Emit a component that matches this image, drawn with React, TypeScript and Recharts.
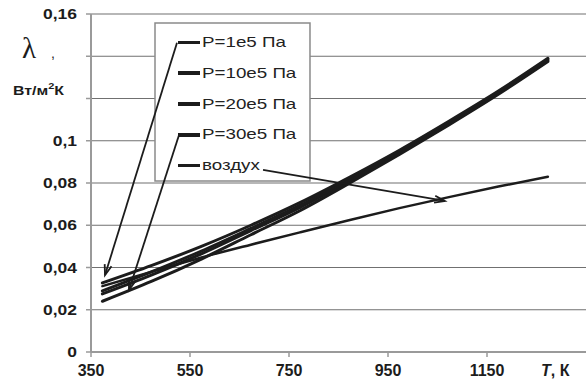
import React from 'react';
import {
  LineChart,
  Line,
  XAxis,
  YAxis,
  CartesianGrid,
  Legend,
  ReferenceArea,
  ReferenceLine,
} from 'recharts';

// ---- data ----
const temperatures = [373, 473, 573, 673, 773, 873, 973, 1073, 1173, 1273];
const steamP1 = [0.024, 0.0335, 0.044, 0.0555, 0.067, 0.08, 0.0935, 0.1075, 0.122, 0.1375];
const steamP10 = [0.0275, 0.0365, 0.0465, 0.0575, 0.0685, 0.081, 0.0942, 0.108, 0.1225, 0.138];
const steamP20 = [0.0289, 0.038, 0.0478, 0.0585, 0.0695, 0.0818, 0.0948, 0.1085, 0.123, 0.1385];
const steamP30 = [0.0327, 0.041, 0.05, 0.06, 0.0708, 0.0828, 0.0955, 0.1092, 0.1235, 0.139];
const air = [0.0312, 0.038, 0.0447, 0.0508, 0.0567, 0.0625, 0.0681, 0.0733, 0.0783, 0.083];

const seriesKeys = ['p1', 'p10', 'p20', 'p30', 'air'];
const seriesNames = ['P=1e5 Па', 'P=10e5 Па', 'P=20e5 Па', 'P=30e5 Па', 'воздух'];
const seriesValues = [steamP1, steamP10, steamP20, steamP30, air];

const xTicks = [350, 550, 750, 950, 1150];
const yTicks = [0, 0.02, 0.04, 0.06, 0.08, 0.1, 0.12, 0.14, 0.16];
const yTickLabels = ['0', '0,02', '0,04', '0,06', '0,08', '0,1', '', '', '0,16'];

// legend frame, in data units
const legendFrame = { x1: 479.3, x2: 792.4, y1: 0.081, y2: 0.1557 };
// annotation arrows (from legend entries to curves), in data units
const arrowFrom = [
  { x: 523.7, y: 0.1464 },
  { x: 527.8, y: 0.1027 },
  { x: 697.5, y: 0.0862 },
];
const arrowTo = [
  { x: 378.3, y: 0.0364 },
  { x: 426.8, y: 0.0294 },
  { x: 1065, y: 0.0715 },
];

const tableData = temperatures.map((t, i) => {
  const row: Record<string, number> = { T: t };
  seriesKeys.forEach((k, j) => {
    row[k] = seriesValues[j][i];
  });
  return row;
});

const FONT = '"Liberation Sans", Arial, sans-serif';
const INK = '#1c1c1c';
const AXIS_GRAY = '#9a9a9a';

const YTick = (props: any) => {
  const { x, y, payload, index } = props;
  const idx = yTicks.indexOf(payload.value);
  const label = idx >= 0 ? yTickLabels[idx] : '';
  return (
    <g transform={`translate(${x},${y})`}>
      <text
        transform="scale(1.25,1)"
        textAnchor="end"
        dy="0.36em"
        fontFamily={FONT}
        fontWeight="bold"
        fontSize={14}
        fill={INK}
      >
        {label}
      </text>
    </g>
  );
};

const XTick = (props: any) => {
  const { x, y, payload } = props;
  return (
    <text
      x={x}
      y={y}
      dy="0.71em"
      textAnchor="middle"
      fontFamily={FONT}
      fontWeight="bold"
      fontSize={16}
      fill={INK}
    >
      {payload.value}
    </text>
  );
};

const YLabel = () => (
  <g>
    <text x={29} y={58} textAnchor="middle" fontFamily='"Liberation Serif", "Times New Roman", serif' fontSize={29} fill={INK}>
      λ
    </text>
    <text x={51} y={58} fontFamily={FONT} fontSize={14} fill={INK}>
      ,
    </text>
    <g transform="translate(13,95)">
      <text transform="scale(1.22,1)" fontFamily={FONT} fontWeight="bold" fontSize={13} fill={INK}>
        <tspan>Вт/м</tspan>
        <tspan dy={-6} fontSize={9}>2</tspan>
        <tspan dy={6}>К</tspan>
      </text>
    </g>
  </g>
);

const XLabel = () => (
  <text x={541} y={376} fontFamily={FONT} fontWeight="bold" fontSize={16} fill={INK}>
    <tspan fontStyle="italic">T</tspan>
    <tspan>, К</tspan>
  </text>
);

const ArrowShape = (p: any) => {
  const { x1, y1, x2, y2 } = p;
  const ang = Math.atan2(y2 - y1, x2 - x1);
  const len = 11;
  const spread = 0.33;
  const a1 = ang + Math.PI - spread;
  const a2 = ang + Math.PI + spread;
  const d = `M${x2 + len * Math.cos(a1)},${y2 + len * Math.sin(a1)} L${x2},${y2} L${x2 + len * Math.cos(a2)},${y2 + len * Math.sin(a2)}`;
  return (
    <g>
      <line x1={x1} y1={y1} x2={x2} y2={y2} stroke={INK} strokeWidth={1.8} />
      <path d={d} fill="none" stroke={INK} strokeWidth={1.8} />
    </g>
  );
};

const LegendContent = () => (
  <div
    style={{
      width: 155,
      height: 158,
      paddingTop: 4,
      boxSizing: 'border-box',
      fontFamily: FONT,
    }}
  >
    {seriesNames.map((name) => (
      <div
        key={name}
        style={{ height: 30.8, display: 'flex', alignItems: 'center', position: 'relative' }}
      >
        <span
          style={{
            position: 'absolute',
            left: 23,
            width: 22,
            height: 3.5,
            background: INK,
            top: '50%',
            marginTop: -1.75,
          }}
        />
        <span
          style={{
            position: 'absolute',
            left: 47,
            fontSize: 15,
            color: '#222',
            whiteSpace: 'nowrap',
            transform: 'scaleX(1.25)',
            transformOrigin: 'left center',
            lineHeight: '30.8px',
          }}
        >
          {name}
        </span>
      </div>
    ))}
  </div>
);

export default function App() {
  return (
    <div style={{ position: 'absolute', left: 0, top: 0, background: '#fff' }}>
      <LineChart
        width={586}
        height={380}
        data={tableData}
        margin={{ top: 14, right: 0, bottom: 0, left: 0 }}
        style={{ fontFamily: FONT }}
      >
        <CartesianGrid horizontal vertical={false} stroke="#707070" strokeWidth={1.2} />
        <XAxis
          dataKey="T"
          type="number"
          domain={[350, 1350]}
          ticks={xTicks}
          height={28}
          axisLine={{ stroke: AXIS_GRAY, strokeWidth: 2 }}
          tickLine={{ stroke: AXIS_GRAY, strokeWidth: 1.5 }}
          tickSize={5}
          tickMargin={8}
          tick={<XTick />}
          interval={0}
          label={<XLabel />}
        />
        <YAxis
          type="number"
          domain={[0, 0.16]}
          ticks={yTicks}
          width={91}
          axisLine={{ stroke: AXIS_GRAY, strokeWidth: 2 }}
          tickLine={{ stroke: AXIS_GRAY, strokeWidth: 1.5 }}
          tickSize={5}
          tickMargin={9}
          tick={<YTick />}
          interval={0}
          label={<YLabel />}
        />
        <ReferenceArea
          x1={legendFrame.x1}
          x2={legendFrame.x2}
          y1={legendFrame.y1}
          y2={legendFrame.y2}
          fill="#ffffff"
          fillOpacity={1}
          stroke="#8a8a8a"
          strokeWidth={1.5}
          ifOverflow="visible"
        />
        {seriesKeys.map((k, i) => (
          <Line
            key={k}
            dataKey={k}
            name={seriesNames[i]}
            type="monotone"
            stroke={INK}
            strokeWidth={k === 'air' ? 2.5 : 3}
            strokeLinecap="round"
            dot={false}
            activeDot={false}
            isAnimationActive={false}
          />
        ))}
        {arrowFrom.map((f, i) => (
          <ReferenceLine
            key={`arrow-${i}`}
            segment={[f, arrowTo[i]]}
            ifOverflow="visible"
            shape={ArrowShape}
          />
        ))}
        <Legend
          layout="vertical"
          align="center"
          verticalAlign="middle"
          width={155}
          height={158}
          wrapperStyle={{ left: 155, top: 23, width: 155, height: 158 }}
          content={<LegendContent />}
        />
      </LineChart>
    </div>
  );
}
